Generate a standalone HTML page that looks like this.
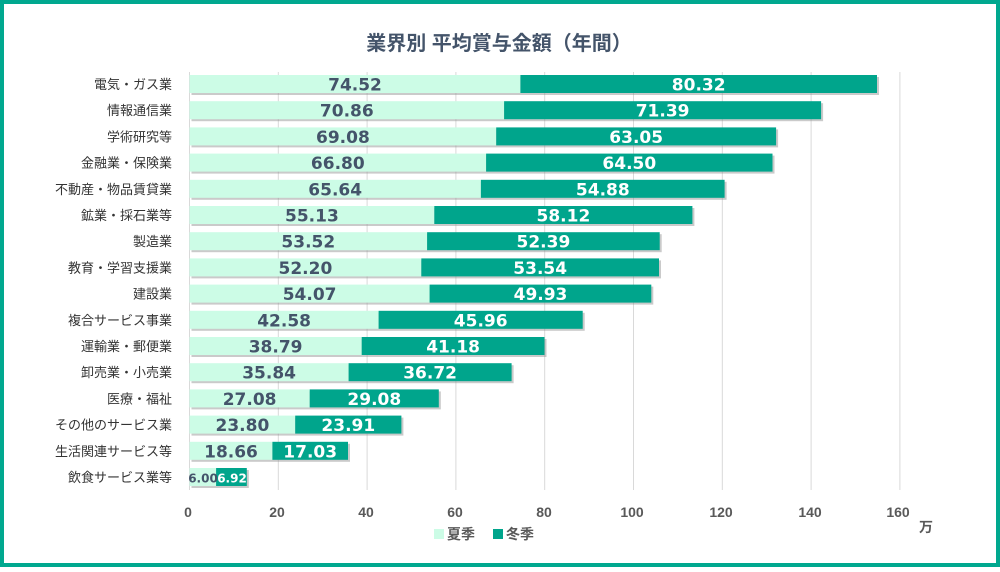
<!DOCTYPE html>
<html><head><meta charset="utf-8"><style>
html,body{margin:0;padding:0;background:#fff}
svg text{font-family:"Liberation Sans","Noto Sans CJK JP",sans-serif}
.c{font-size:13px;fill:#333;text-anchor:end}
.s{font-size:17px;font-weight:bold;fill:#44546a;text-anchor:middle;font-family:"DejaVu Sans",sans-serif !important}
.w{font-size:17px;font-weight:bold;fill:#fff;text-anchor:middle;font-family:"DejaVu Sans",sans-serif !important}
.sh{fill:#8a8a8a;opacity:.45}
.a{fill:#ccfce6}.b{fill:#00a58c}
</style></head><body>
<svg width="1000" height="567" viewBox="0 0 1000 567" xmlns="http://www.w3.org/2000/svg">
<rect x="2" y="2" width="996" height="563" fill="#fff" stroke="#00a88f" stroke-width="4"/>
<text x="499" y="50" text-anchor="middle" font-size="20" font-weight="bold" fill="#44546a">業界別 平均賞与金額（年間）</text>
<g stroke="#d9d9d9" stroke-width="1">
<line x1="189.5" y1="72" x2="189.5" y2="490"/><line x1="278.3" y1="72" x2="278.3" y2="490"/><line x1="367.1" y1="72" x2="367.1" y2="490"/><line x1="455.9" y1="72" x2="455.9" y2="490"/><line x1="544.7" y1="72" x2="544.7" y2="490"/><line x1="633.5" y1="72" x2="633.5" y2="490"/><line x1="722.3" y1="72" x2="722.3" y2="490"/><line x1="811.1" y1="72" x2="811.1" y2="490"/><line x1="899.9" y1="72" x2="899.9" y2="490"/>
</g>
<g font-size="14" fill="#595959" font-weight="bold" text-anchor="middle">
<text x="188" y="517">0</text><text x="277" y="517">20</text><text x="366" y="517">40</text><text x="455" y="517">60</text><text x="544" y="517">80</text><text x="632" y="517">100</text><text x="721" y="517">120</text><text x="810" y="517">140</text><text x="898" y="517">160</text>
<text x="926" y="532">万</text>
</g>
<rect x="434" y="529" width="10" height="10" fill="#ccfce6"/>
<text x="447" y="539" font-size="14" font-weight="bold" fill="#595959">夏季</text>
<rect x="493" y="529" width="10" height="10" fill="#00a58c"/>
<text x="506" y="539" font-size="14" font-weight="bold" fill="#595959">冬季</text>

<g>
<rect class="sh" x="191.5" y="77" width="687.5" height="18"/><rect class="a" x="189.5" y="75" width="330.9" height="18"/><rect class="b" x="520.4" y="75" width="356.6" height="18"/>
<text class="c" x="172" y="89">電気・ガス業</text><text class="s" x="355" y="90.5">74.52</text><text class="w" x="698.7" y="90.5">80.32</text>

<rect class="sh" x="191.5" y="103.2" width="631.6" height="18"/><rect class="a" x="189.5" y="101.2" width="314.6" height="18"/><rect class="b" x="504.1" y="101.2" width="317" height="18"/>
<text class="c" x="172" y="115.2">情報通信業</text><text class="s" x="346.8" y="116.7">70.86</text><text class="w" x="662.6" y="116.7">71.39</text>

<rect class="sh" x="191.5" y="129.4" width="586.6" height="18"/><rect class="a" x="189.5" y="127.4" width="306.7" height="18"/><rect class="b" x="496.2" y="127.4" width="279.9" height="18"/>
<text class="c" x="172" y="141.4">学術研究等</text><text class="s" x="342.9" y="142.9">69.08</text><text class="w" x="636.2" y="142.9">63.05</text>

<rect class="sh" x="191.5" y="155.6" width="583" height="18"/><rect class="a" x="189.5" y="153.6" width="296.6" height="18"/><rect class="b" x="486.1" y="153.6" width="286.4" height="18"/>
<text class="c" x="172" y="167.6">金融業・保険業</text><text class="s" x="337.8" y="169.1">66.80</text><text class="w" x="629.3" y="169.1">64.50</text>

<rect class="sh" x="191.5" y="181.8" width="535.1" height="18"/><rect class="a" x="189.5" y="179.8" width="291.4" height="18"/><rect class="b" x="480.9" y="179.8" width="243.7" height="18"/>
<text class="c" x="172" y="193.8">不動産・物品賃貸業</text><text class="s" x="335.2" y="195.3">65.64</text><text class="w" x="602.8" y="195.3">54.88</text>

<rect class="sh" x="191.5" y="208" width="502.9" height="18"/><rect class="a" x="189.5" y="206" width="244.8" height="18"/><rect class="b" x="434.3" y="206" width="258.1" height="18"/>
<text class="c" x="172" y="220">鉱業・採石業等</text><text class="s" x="311.9" y="221.5">55.13</text><text class="w" x="563.4" y="221.5">58.12</text>

<rect class="sh" x="191.5" y="234.2" width="470.2" height="18"/><rect class="a" x="189.5" y="232.2" width="237.6" height="18"/><rect class="b" x="427.1" y="232.2" width="232.6" height="18"/>
<text class="c" x="172" y="246.2">製造業</text><text class="s" x="308.3" y="247.7">53.52</text><text class="w" x="543.4" y="247.7">52.39</text>

<rect class="sh" x="191.5" y="260.4" width="469.5" height="18"/><rect class="a" x="189.5" y="258.4" width="231.8" height="18"/><rect class="b" x="421.3" y="258.4" width="237.7" height="18"/>
<text class="c" x="172" y="272.4">教育・学習支援業</text><text class="s" x="305.4" y="273.9">52.20</text><text class="w" x="540.2" y="273.9">53.54</text>

<rect class="sh" x="191.5" y="286.6" width="461.8" height="18"/><rect class="a" x="189.5" y="284.6" width="240.1" height="18"/><rect class="b" x="429.6" y="284.6" width="221.7" height="18"/>
<text class="c" x="172" y="298.6">建設業</text><text class="s" x="309.6" y="300.1">54.07</text><text class="w" x="540.5" y="300.1">49.93</text>

<rect class="sh" x="191.5" y="312.8" width="393.2" height="18"/><rect class="a" x="189.5" y="310.8" width="189.1" height="18"/><rect class="b" x="378.6" y="310.8" width="204.1" height="18"/>
<text class="c" x="172" y="324.8">複合サービス事業</text><text class="s" x="284.1" y="326.3">42.58</text><text class="w" x="480.7" y="326.3">45.96</text>

<rect class="sh" x="191.5" y="339" width="355" height="18"/><rect class="a" x="189.5" y="337" width="172.2" height="18"/><rect class="b" x="361.7" y="337" width="182.8" height="18"/>
<text class="c" x="172" y="351">運輸業・郵便業</text><text class="s" x="275.6" y="352.5">38.79</text><text class="w" x="453.1" y="352.5">41.18</text>

<rect class="sh" x="191.5" y="365.2" width="322.1" height="18"/><rect class="a" x="189.5" y="363.2" width="159.1" height="18"/><rect class="b" x="348.6" y="363.2" width="163" height="18"/>
<text class="c" x="172" y="377.2">卸売業・小売業</text><text class="s" x="269.1" y="378.7">35.84</text><text class="w" x="430.1" y="378.7">36.72</text>

<rect class="sh" x="191.5" y="391.4" width="249.3" height="18"/><rect class="a" x="189.5" y="389.4" width="120.2" height="18"/><rect class="b" x="309.7" y="389.4" width="129.1" height="18"/>
<text class="c" x="172" y="403.4">医療・福祉</text><text class="s" x="249.6" y="404.9">27.08</text><text class="w" x="374.3" y="404.9">29.08</text>

<rect class="sh" x="191.5" y="417.6" width="211.9" height="18"/><rect class="a" x="189.5" y="415.6" width="105.7" height="18"/><rect class="b" x="295.2" y="415.6" width="106.2" height="18"/>
<text class="c" x="172" y="429.6">その他のサービス業</text><text class="s" x="242.4" y="431.1">23.80</text><text class="w" x="348.3" y="431.1">23.91</text>

<rect class="sh" x="191.5" y="443.8" width="158.5" height="18"/><rect class="a" x="189.5" y="441.8" width="82.9" height="18"/><rect class="b" x="272.4" y="441.8" width="75.6" height="18"/>
<text class="c" x="172" y="455.8">生活関連サービス等</text><text class="s" x="231" y="457.3">18.66</text><text class="w" x="310.2" y="457.3">17.03</text>

<rect class="sh" x="191.5" y="470" width="57.3" height="18"/><rect class="a" x="189.5" y="468" width="26.6" height="18"/><rect class="b" x="216.1" y="468" width="30.7" height="18"/>
<text class="c" x="172" y="482">飲食サービス業等</text><text class="s" x="203" y="482.5" style="font-size:12px">6.00</text><text class="w" x="232" y="482.5" style="font-size:12px">6.92</text>
</g>
</svg>
</body></html>
